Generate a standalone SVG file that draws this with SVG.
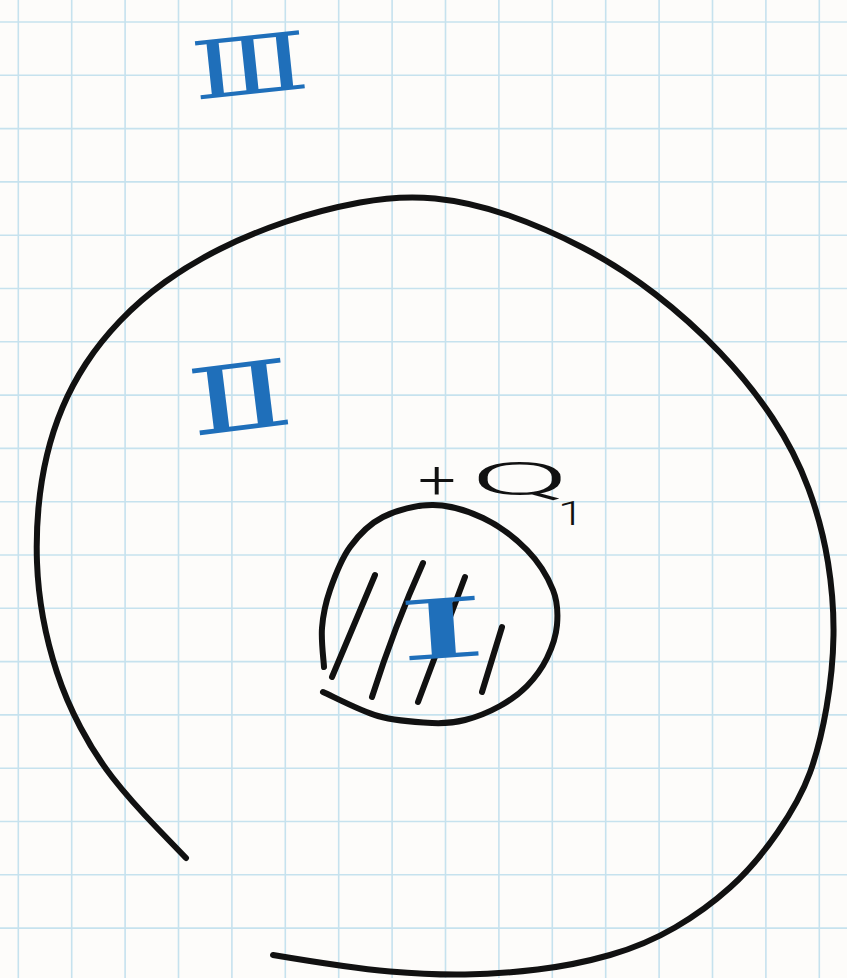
<svg xmlns="http://www.w3.org/2000/svg" width="847" height="978" viewBox="0 0 847 978">
<style>
.ink{fill:none;stroke:#111;stroke-width:6;stroke-linecap:round;stroke-linejoin:round}
.grid{fill:none;stroke:#c6e2ee;stroke-width:1.6}
.num{fill:#1f6fba;font-family:"DejaVu Serif","Liberation Serif",serif;text-anchor:middle}
.lbl{fill:#111;font-family:Roboto,"Liberation Sans",sans-serif;font-weight:300}
</style>
<rect width="847" height="978" fill="#fdfcfa"/>
<g id="grid">
<path class="grid" d="M18.3 0V978M71.7 0V978M125.1 0V978M178.5 0V978M231.9 0V978M285.3 0V978M338.7 0V978M392.1 0V978M445.5 0V978M498.9 0V978M552.3 0V978M605.7 0V978M659.1 0V978M712.5 0V978M765.9 0V978M819.3 0V978"/>
<path class="grid" d="M0 22H847M0 75.3H847M0 128.6H847M0 181.9H847M0 235.2H847M0 288.5H847M0 341.8H847M0 395.1H847M0 448.4H847M0 501.7H847M0 555H847M0 608.3H847M0 661.6H847M0 714.9H847M0 768.2H847M0 821.5H847M0 874.8H847M0 928.1H847"/>
</g>
<g id="region-III">
<text class="num" font-size="80" x="250" y="94" textLength="118" lengthAdjust="spacingAndGlyphs" transform="rotate(-6 250 65)">Ⅲ</text>
</g>
<g id="outer-boundary">
<path class="ink" d="M186 858L158 829Q130 800 112.5 777.5Q95 755 80.5 727.5Q66 700 57 672.5Q48 645 43 617.5Q38 590 37 562.5Q36 535 38.5 507.5Q41 480 47 455Q53 430 62.5 407.5Q72 385 86 363.5Q100 342 120 321Q140 300 165 282Q190 264 220 249Q250 234 285 222Q320 210 360 202.5Q400 195 435 198.5Q470 202 507.5 215Q545 228 582.5 247.5Q620 267 655 294Q690 321 720 352.5Q750 384 772.5 418Q795 452 808.5 488.5Q822 525 828 562.5Q834 600 833.5 635Q833 670 826.5 707.5Q820 745 810 772.5Q800 800 777.5 832.5Q755 865 730 887.5Q705 910 675 927.5Q645 945 610 955Q575 965 537.5 969.5Q500 974 465 974.5Q430 975 390 971.5Q350 968 273 955"/>
</g>
<g id="region-II">
<text class="num" font-size="92" x="240" y="430" textLength="106" lengthAdjust="spacingAndGlyphs" transform="rotate(-7 240 397)">Ⅱ</text>
</g>
<g id="inner-sphere">
<path class="ink" d="M324 667C323.7 660.5 321 640.8 322 628C323 615.2 325.3 603.5 330 590C334.7 576.5 341.2 559.2 350 547C358.8 534.8 369.2 524 383 517C396.8 510 416.3 504.8 433 505C449.7 505.2 467.3 510.5 483 518C498.7 525.5 515.3 538 527 550C538.7 562 548 577.5 553 590C558 602.5 558 613.7 557 625C556 636.3 552 647.8 547 658C542 668.2 534.8 678 527 686C519.2 694 510.3 700.3 500 706C489.7 711.7 476.3 717.2 465 720C453.7 722.8 446.5 723.7 432 723C417.5 722.3 396.2 721.2 378 716C359.8 710.8 332.2 696 323 692"/>
<path class="ink" d="M375 575L332 677M423 563Q395 625 372 697M465 577L418 702M502 627L482 692"/>
</g>
<g id="region-I">
<text class="num" font-size="82" x="442" y="658" textLength="96" lengthAdjust="spacingAndGlyphs" transform="rotate(-4 442 628)">Ⅰ</text>
</g>
<g id="charge-label">
<text class="lbl" font-size="54"><tspan x="418" y="499" textLength="38" lengthAdjust="spacingAndGlyphs">+</tspan><tspan x="470" y="495" font-size="46" textLength="100" lengthAdjust="spacingAndGlyphs">Q</tspan><tspan x="558" y="525" font-size="34" textLength="26" lengthAdjust="spacingAndGlyphs">1</tspan></text>
</g>
</svg>
